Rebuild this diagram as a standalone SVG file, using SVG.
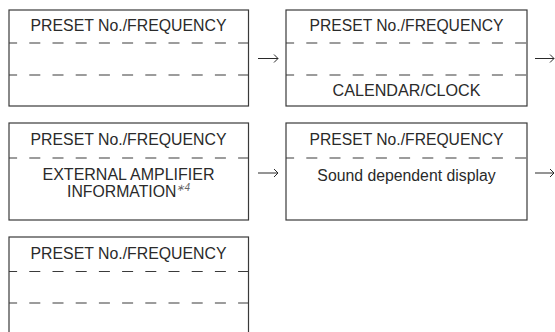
<svg xmlns="http://www.w3.org/2000/svg" width="555" height="332" viewBox="0 0 555 332">
<style>
.box{fill:#fff;stroke:#3a3a3a;stroke-width:1.2}
.dash{stroke:#3a3a3a;stroke-width:1.2;stroke-dasharray:11 12.2;stroke-dashoffset:2.9}
.t{font-family:"Liberation Sans",Arial,sans-serif;font-size:15.8px;fill:#2a2a2a;text-anchor:middle}
.arr{fill:none;stroke:#2a2a2a;stroke-width:1}
</style>
<rect width="555" height="332" fill="#fff"/>
<g id="node1">
<rect class="box" x="9" y="10" width="239.5" height="96"/>
<text class="t" x="128.5" y="31" textLength="196" lengthAdjust="spacingAndGlyphs">PRESET No./FREQUENCY</text>
<line class="dash" x1="9" y1="43" x2="248.5" y2="43"/>
<line class="dash" x1="9" y1="75" x2="248.5" y2="75"/>
</g>
<g id="node2">
<rect class="box" x="286" y="10" width="241" height="96"/>
<text class="t" x="406.5" y="31" textLength="194" lengthAdjust="spacingAndGlyphs">PRESET No./FREQUENCY</text>
<line class="dash" x1="286" y1="43" x2="527" y2="43"/>
<line class="dash" x1="286" y1="75" x2="527" y2="75"/>
<text class="t" x="406.5" y="96" textLength="148" lengthAdjust="spacingAndGlyphs">CALENDAR/CLOCK</text>
</g>
<g id="node3">
<rect class="box" x="9" y="123" width="239.5" height="97"/>
<text class="t" x="128.5" y="145" textLength="196" lengthAdjust="spacingAndGlyphs">PRESET No./FREQUENCY</text>
<line class="dash" x1="9" y1="158" x2="248.5" y2="158"/>
<text class="t" x="128.5" y="180" textLength="172" lengthAdjust="spacingAndGlyphs">EXTERNAL AMPLIFIER</text>
<text class="t" x="128.5" y="197">INFORMATION<tspan font-size="10" dy="-6" font-style="italic" fill="#666">∗4</tspan></text>
</g>
<g id="node4">
<rect class="box" x="286" y="123" width="241" height="97"/>
<text class="t" x="406.5" y="145" textLength="194" lengthAdjust="spacingAndGlyphs">PRESET No./FREQUENCY</text>
<line class="dash" x1="286" y1="158" x2="527" y2="158"/>
<text class="t" x="406.5" y="181">Sound dependent display</text>
</g>
<g id="node5">
<rect class="box" x="9" y="237" width="239.5" height="100"/>
<text class="t" x="128.5" y="259" textLength="196" lengthAdjust="spacingAndGlyphs">PRESET No./FREQUENCY</text>
<line class="dash" x1="9" y1="271.5" x2="248.5" y2="271.5"/>
<line class="dash" x1="9" y1="303" x2="248.5" y2="303"/>
</g>
<g id="connectors">
<path class="arr" d="M258 58.5H278M274 54.5L278 58.5L274 62.5"/>
<path class="arr" d="M535 58.5H554M550 54.5L554 58.5L550 62.5"/>
<path class="arr" d="M258 173H278M274 169L278 173L274 177"/>
<path class="arr" d="M535 173H554M550 169L554 173L550 177"/>
</g>
</svg>
